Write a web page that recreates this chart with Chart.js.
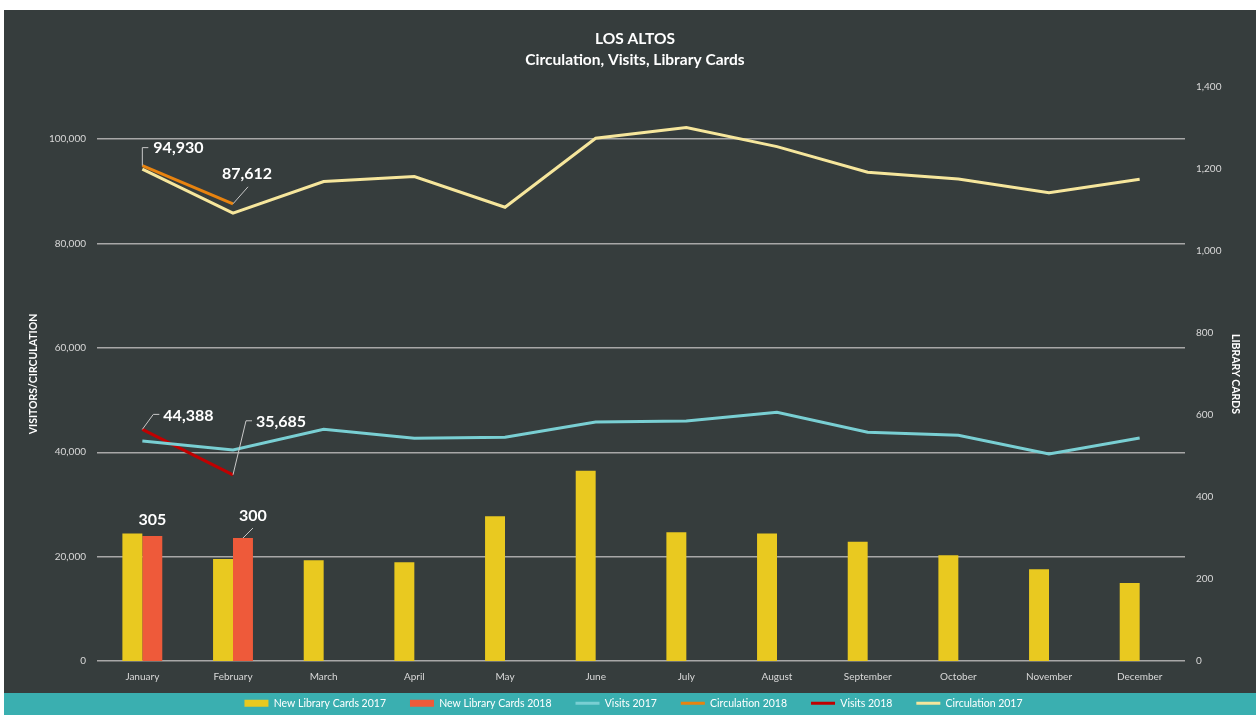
<!DOCTYPE html>
<html>
<head>
<meta charset="utf-8">
<script src="https://cdn.jsdelivr.net/npm/chart.js@4.4.1/dist/chart.umd.min.js"></script>
<style>
  html, body { margin: 0; padding: 0; background: #ffffff; }
  #wrap { position: absolute; left: 0; top: 0; width: 1259px; height: 715px; }
</style>
</head>
<body>
<div id="wrap"><canvas id="c" width="1259" height="715"></canvas></div>
<script>
const months = ['January','February','March','April','May','June','July','August','September','October','November','December'];
const cards2017 = [311, 249, 246, 241, 353, 464, 314, 311, 291, 258, 224, 190];
const cards2018 = [305, 300, null, null, null, null, null, null, null, null, null, null];
const visits2017 = [42170, 40450, 44410, 42690, 42880, 45810, 46000, 47670, 43840, 43260, 39680, 42740];
const circ2018 = [94930, 87612, null, null, null, null, null, null, null, null, null, null];
const visits2018 = [44388, 35685, null, null, null, null, null, null, null, null, null, null];
const circ2017 = [94250, 85820, 91870, 92830, 86960, 100190, 102220, 98580, 93670, 92390, 89760, 92330];
const leftTickValues = [0, 20000, 40000, 60000, 80000, 100000];
const rightTickValues = [0, 200, 400, 600, 800, 1000, 1200, 1400];
const titleLines = ['LOS ALTOS', 'Circulation, Visits, Library Cards'];

const BG = '#363d3d';
const BAND = '#3aafb0';
const FONT = 'Lato, "Open Sans", sans-serif';

const bgPlugin = {
  id: 'bg',
  afterLayout(chart) {
    const lg = chart.legend;
    if (lg) {
      const h = lg.height;
      lg.top = 674;
      lg.bottom = 674 + h;
    }
  },
  beforeDraw(chart) {
    const ctx = chart.ctx;
    ctx.save();
    ctx.fillStyle = '#ffffff';
    ctx.fillRect(0, 0, chart.width, chart.height);
    ctx.fillStyle = BG;
    ctx.fillRect(4, 10, 1252, 683);
    ctx.fillStyle = BAND;
    ctx.fillRect(4, 693, 1252, 22);
    ctx.restore();
  },
  afterDraw(chart) {
    const ctx = chart.ctx;
    ctx.save();
    ctx.fillStyle = '#ffffff';
    ctx.font = 'bold 15.5px ' + FONT;
    ctx.textAlign = 'center';
    ctx.textBaseline = 'middle';
    ctx.fillText(titleLines[0], 635, 39);
    ctx.fillText(titleLines[1], 635, 60);
    ctx.restore();
  }
};

const fmt = v => v.toLocaleString('en-US');

const labelPlugin = {
  id: 'labels',
  afterDatasetsDraw(chart) {
    const ctx = chart.ctx;
    const pt = (ds, i) => chart.getDatasetMeta(ds).data[i];
    ctx.save();
    ctx.strokeStyle = '#c8c8c8';
    ctx.lineWidth = 1;
    ctx.fillStyle = '#ffffff';
    ctx.font = 'bold 16px ' + FONT;
    ctx.textBaseline = 'middle';
    const line = pts => { ctx.beginPath(); ctx.moveTo(pts[0][0], pts[0][1]); for (let k = 1; k < pts.length; k++) ctx.lineTo(pts[k][0], pts[k][1]); ctx.stroke(); };
    const text = (t, x, y, align) => { ctx.textAlign = align; ctx.fillText(t, x, y); };

    let p = pt(3, 0);
    line([[p.x, p.y], [p.x, p.y - 18], [p.x + 6, p.y - 18]]);
    text(fmt(circ2018[0]), p.x + 11, p.y - 18, 'left');
    p = pt(3, 1);
    line([[p.x, p.y], [p.x + 15, p.y - 17]]);
    text(fmt(circ2018[1]), p.x - 11, p.y - 30, 'left');

    p = pt(4, 0);
    line([[p.x, p.y], [p.x + 11, p.y - 15], [p.x + 17, p.y - 15]]);
    text(fmt(visits2018[0]), p.x + 21, p.y - 14, 'left');
    p = pt(4, 1);
    line([[p.x, p.y], [p.x + 13, p.y - 54], [p.x + 19, p.y - 54]]);
    text(fmt(visits2018[1]), p.x + 23, p.y - 53, 'left');

    p = pt(1, 0);
    text(fmt(cards2018[0]), p.x, p.y - 16, 'center');
    p = pt(1, 1);
    line([[p.x, p.y], [p.x + 10, p.y - 10]]);
    text(fmt(cards2018[1]), p.x + 10, p.y - 22, 'center');
    ctx.restore();
  }
};

new Chart(document.getElementById('c'), {
  data: {
    labels: months,
    datasets: [
      { type: 'bar', label: 'New Library Cards 2017', data: cards2017, yAxisID: 'y1', backgroundColor: '#e9c920', pointStyle: 'rect', categoryPercentage: 0.44, barPercentage: 1.0 },
      { type: 'bar', label: 'New Library Cards 2018', data: cards2018, yAxisID: 'y1', backgroundColor: '#ee5a3a', pointStyle: 'rect', categoryPercentage: 0.44, barPercentage: 1.0 },
      { type: 'line', label: 'Visits 2017', data: visits2017, yAxisID: 'y', borderColor: '#79cfd3', backgroundColor: '#79cfd3', borderWidth: 3, pointRadius: 0, pointStyle: 'line', tension: 0 },
      { type: 'line', label: 'Circulation 2018', data: circ2018, yAxisID: 'y', borderColor: '#e8830f', backgroundColor: '#e8830f', borderWidth: 3, pointRadius: 0, pointStyle: 'line', tension: 0 },
      { type: 'line', label: 'Visits 2018', data: visits2018, yAxisID: 'y', borderColor: '#c00000', backgroundColor: '#c00000', borderWidth: 3, pointRadius: 0, pointStyle: 'line', tension: 0 },
      { type: 'line', label: 'Circulation 2017', data: circ2017, yAxisID: 'y', borderColor: '#f6e69c', backgroundColor: '#f6e69c', borderWidth: 3, pointRadius: 0, pointStyle: 'line', tension: 0 }
    ]
  },
  options: {
    responsive: false,
    animation: false,
    layout: { padding: { left: 20, right: 12, top: 87, bottom: -22.5 } },
    plugins: {
      title: { display: false },
      tooltip: { enabled: false },
      legend: {
        position: 'bottom',
        labels: {
          color: '#ffffff',
          font: { family: FONT, size: 10.5 },
          usePointStyle: true,
          pointStyleWidth: 24,
          boxHeight: 7,
          padding: 24
        }
      }
    },
    scales: {
      x: {
        grid: { display: false, drawTicks: false },
        border: { display: false },
        ticks: { color: '#d9d9d9', font: { family: FONT, size: 10 }, padding: 10, maxRotation: 0, autoSkip: false }
      },
      y: {
        position: 'left',
        min: 0, max: 110000,
        afterBuildTicks(s) { s.ticks = leftTickValues.map(v => ({ value: v })); },
        ticks: { color: '#d9d9d9', font: { family: FONT, size: 10 }, padding: 11, callback: v => fmt(v) },
        grid: { color: '#a8a8a8', lineWidth: 1.5, drawTicks: false },
        border: { display: false },
        title: { display: true, text: 'VISITORS/CIRCULATION', color: '#ffffff', font: { family: FONT, size: 10.5, weight: 'bold' }, padding: { top: 7, bottom: 0 } },
        afterFit(s) { s.width = 77; }
      },
      y1: {
        position: 'right',
        min: 0, max: 1400,
        afterBuildTicks(s) { s.ticks = rightTickValues.map(v => ({ value: v })); },
        ticks: { color: '#d9d9d9', font: { family: FONT, size: 10 }, padding: 11, callback: v => fmt(v) },
        grid: { display: false, drawTicks: false },
        border: { display: false },
        title: { display: true, text: 'LIBRARY CARDS', color: '#ffffff', font: { family: FONT, size: 10.5, weight: 'bold' }, padding: { top: 5, bottom: 0 } },
        afterFit(s) { s.width = 62; }
      }
    }
  },
  plugins: [bgPlugin, labelPlugin]
});
</script>
</body>
</html>
